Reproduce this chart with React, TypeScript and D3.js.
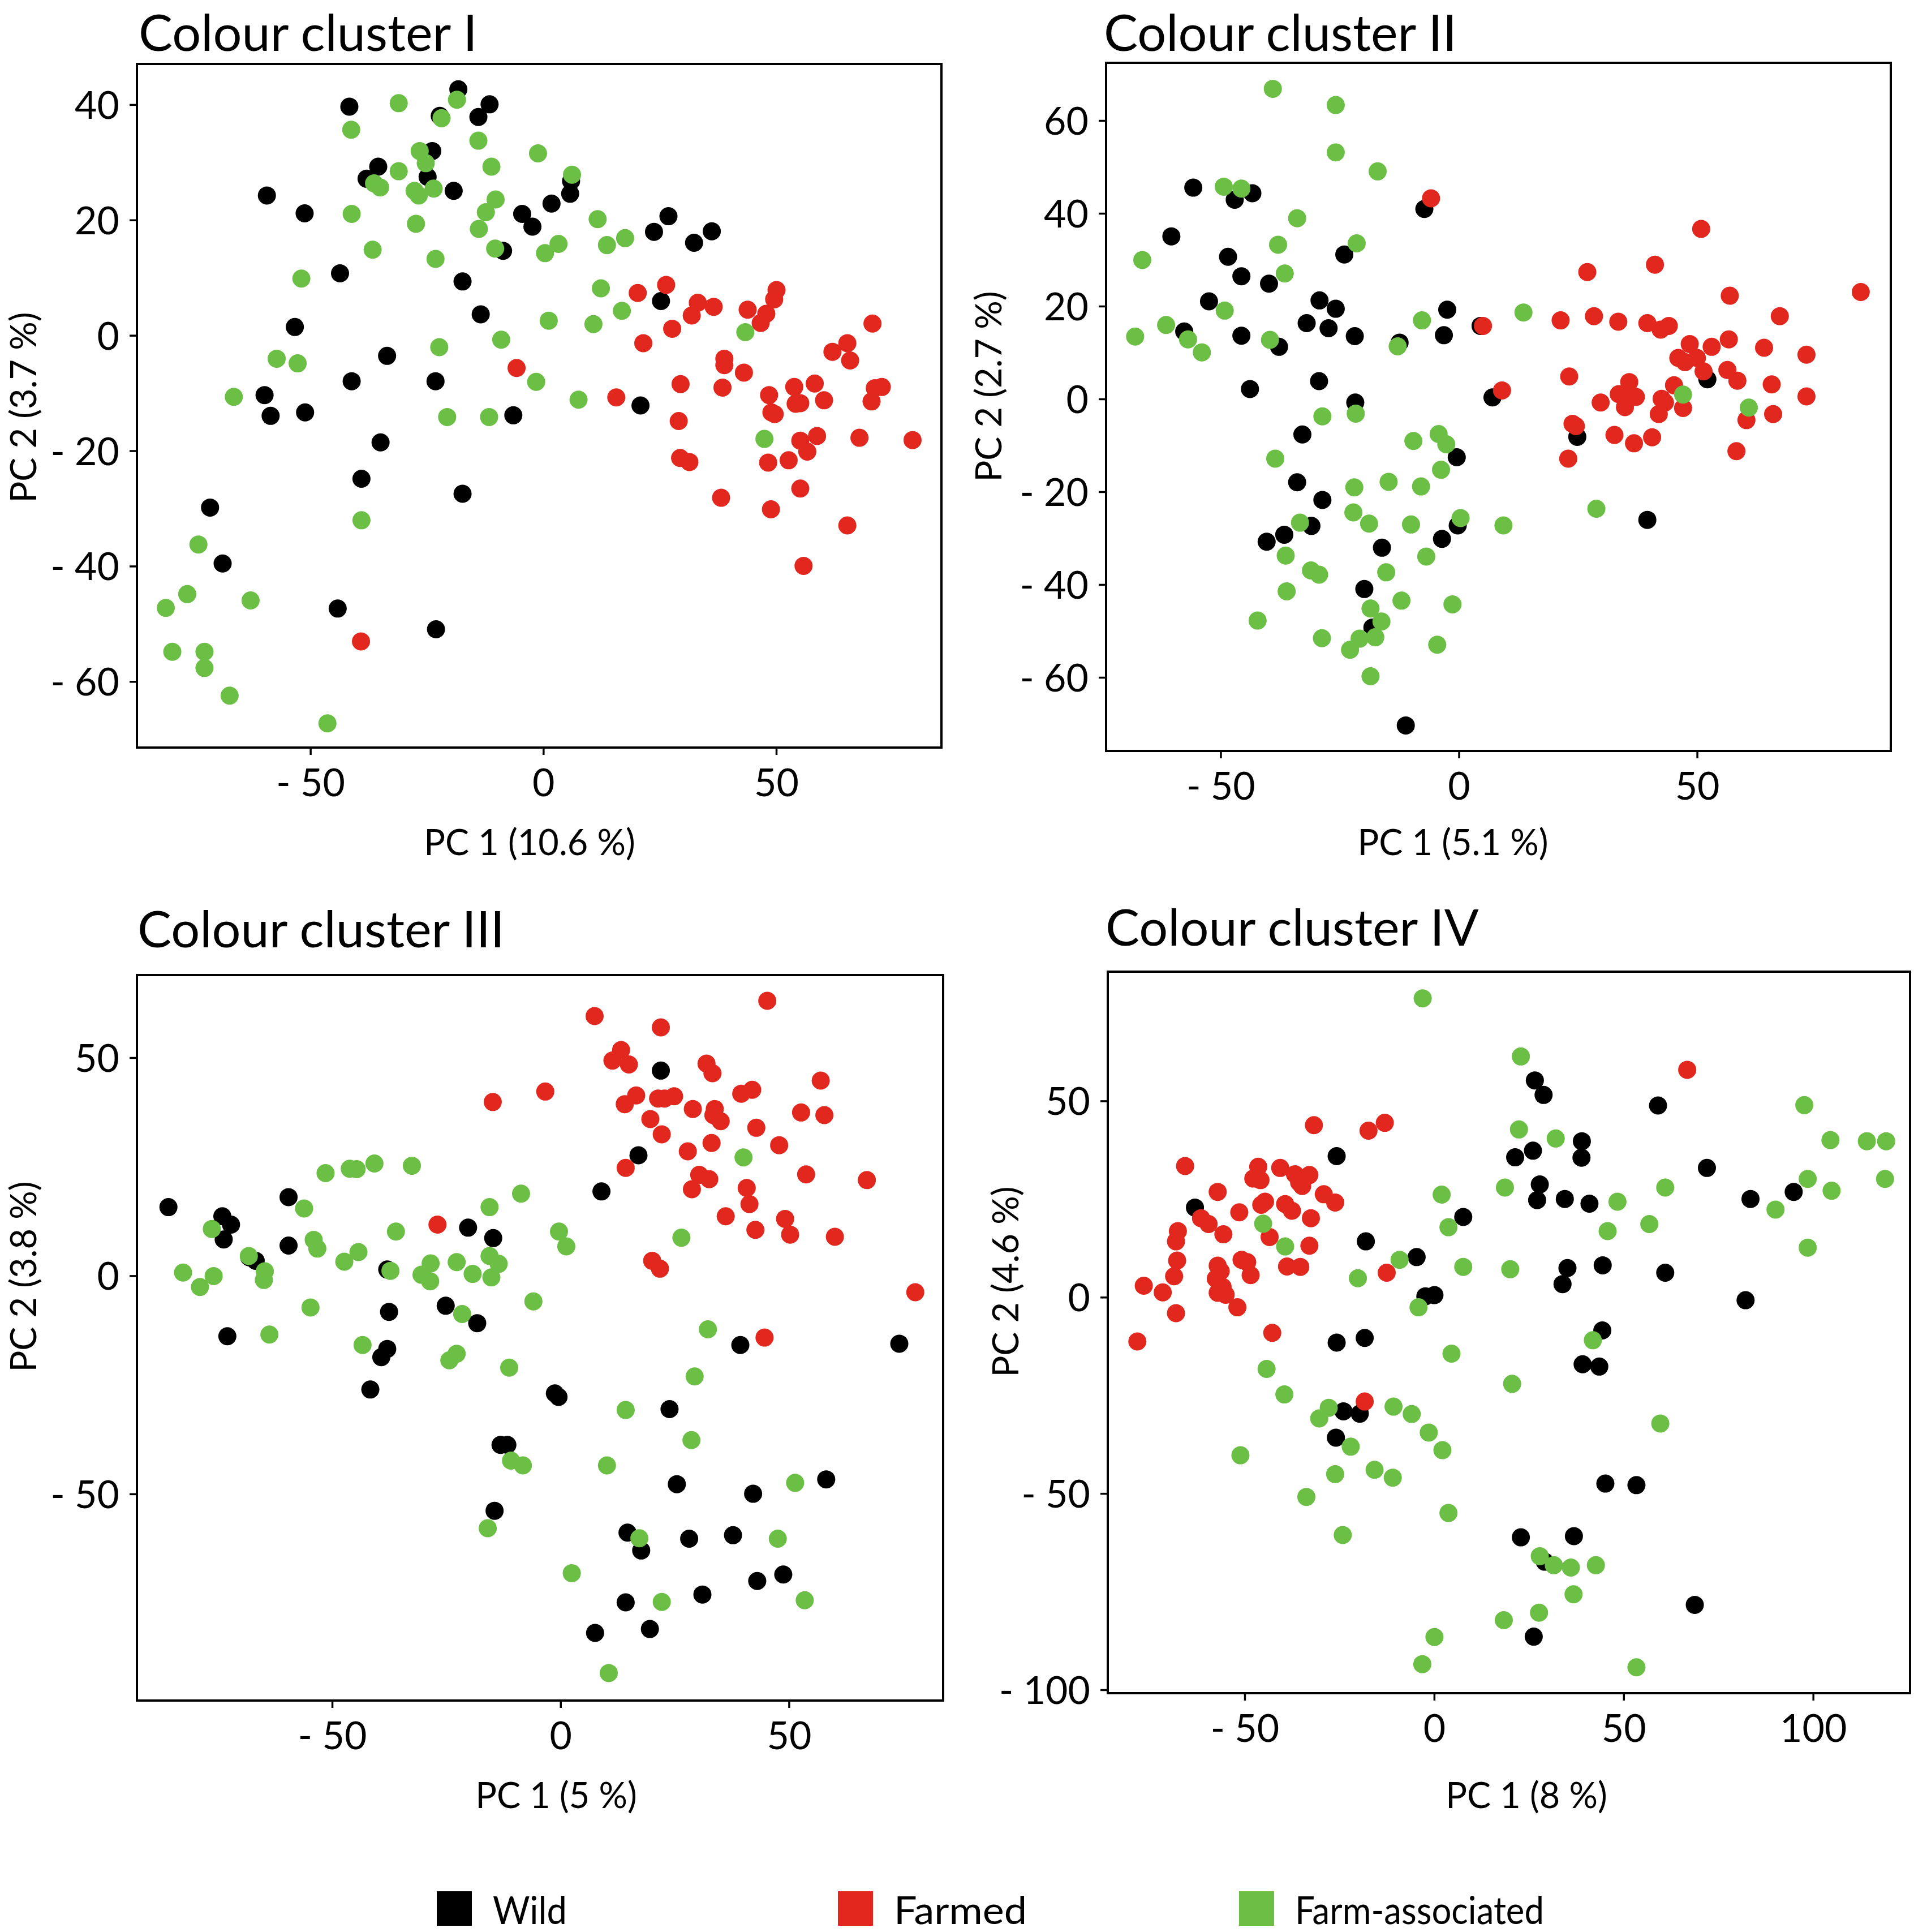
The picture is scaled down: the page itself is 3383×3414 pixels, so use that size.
import * as React from 'react';
import { scaleLinear } from 'd3';

// Colour cluster I
const c1Wild: [number, number][] = [
  [-41.7, 39.7], [-18.3, 42.7], [-11.6, 40.1], [-14.0, 37.9], [-22.3, 38.1], [-23.9, 32.0], [-35.5, 29.3],
  [-38.0, 27.2], [-24.9, 27.5], [-19.3, 25.1], [-59.4, 24.3], [-51.3, 21.2], [-4.6, 21.1], [-2.4, 18.9],
  [1.7, 22.9], [5.7, 24.6], [5.9, 26.8], [-8.7, 14.7], [23.7, 18.0], [26.8, 20.7], [32.3, 16.1], [36.1, 18.1],
  [-43.7, 10.8], [-17.4, 9.4], [-13.5, 3.7], [25.2, 6.0], [-53.4, 1.5], [-33.6, -3.5], [-41.2, -7.9],
  [-23.2, -7.9], [-59.9, -10.3], [-58.6, -13.9], [-51.2, -13.3], [-6.5, -13.8], [20.8, -12.1], [-35.0, -18.5],
  [-39.1, -24.8], [-17.4, -27.4], [-71.6, -29.8], [-68.9, -39.5], [-44.2, -47.3], [-23.1, -50.9],
];
const c1Farmed: [number, number][] = [
  [26.3, 8.8], [20.2, 7.4], [50.0, 7.9], [49.5, 6.3], [33.1, 5.7], [36.5, 5.0], [31.8, 3.5], [43.8, 4.5],
  [47.8, 3.8], [46.6, 2.2], [27.6, 1.2], [70.6, 2.1], [21.4, -1.3], [65.2, -1.3], [62.0, -2.8], [65.8, -4.3],
  [38.8, -4.0], [38.8, -5.1], [43.0, -6.4], [-5.8, -5.6], [29.4, -8.4], [38.4, -9.0], [53.8, -8.9], [58.2, -8.3],
  [71.1, -9.1], [72.6, -8.9], [48.4, -10.3], [15.6, -10.7], [54.1, -11.8], [55.1, -11.7], [60.2, -11.2],
  [70.4, -11.4], [48.9, -13.3], [49.6, -13.6], [29.0, -14.8], [58.7, -17.4], [55.1, -18.2], [67.8, -17.7],
  [79.2, -18.1], [56.6, -20.1], [29.3, -21.2], [31.3, -21.9], [48.2, -22.0], [52.6, -21.6], [55.1, -26.5],
  [38.1, -28.1], [48.8, -30.1], [65.2, -32.9], [55.8, -39.9], [-39.2, -53.0],
];
const c1Assoc: [number, number][] = [
  [-31.1, 40.3], [-18.6, 40.9], [-21.9, 37.7], [-41.3, 35.7], [-14.0, 33.8], [-26.6, 32.0], [-25.3, 29.9],
  [-11.2, 29.3], [-1.2, 31.6], [-31.1, 28.5], [6.1, 27.9], [-36.4, 26.4], [-35.1, 25.7], [-27.7, 25.1],
  [-26.8, 24.3], [-23.6, 25.5], [-10.3, 23.6], [-12.4, 21.4], [-41.2, 21.1], [-27.4, 19.4], [-13.9, 18.5],
  [11.6, 20.2], [-36.7, 14.9], [-10.4, 15.1], [0.3, 14.3], [3.2, 15.9], [13.6, 15.7], [17.5, 16.9],
  [-23.2, 13.3], [-52.0, 9.9], [12.3, 8.2], [16.8, 4.3], [1.1, 2.6], [10.7, 2.0], [43.3, 0.6], [-9.1, -0.7],
  [-22.4, -2.0], [-57.3, -4.0], [-52.8, -4.8], [-66.5, -10.6], [-1.6, -8.0], [7.5, -11.1], [-20.7, -14.1],
  [-11.7, -14.1], [47.4, -17.9], [-39.1, -32.0], [-74.1, -36.2], [-76.5, -44.8], [-62.9, -45.9], [-81.1, -47.2],
  [-79.7, -54.8], [-72.8, -54.8], [-72.8, -57.6], [-67.4, -62.4], [-46.4, -67.2],
];

// Colour cluster II
const c2Wild: [number, number][] = [
  [-55.8, 45.6], [-47.1, 43.0], [-43.4, 44.4], [-60.4, 35.1], [-48.5, 30.7], [-45.7, 26.5], [-24.1, 31.2],
  [-39.9, 24.9], [-52.5, 21.1], [-29.3, 21.3], [-25.9, 19.5], [-32.0, 16.4], [-27.4, 15.3], [-21.9, 13.6],
  [-57.7, 14.6], [-45.7, 13.7], [-37.8, 11.3], [-7.3, 41.0], [-2.5, 19.3], [-3.2, 13.8], [-12.5, 12.2],
  [4.5, 15.8], [-29.4, 3.9], [-43.9, 2.2], [-21.8, -0.7], [7.0, 0.4], [-32.9, -7.6], [-0.5, -12.5],
  [24.8, -8.1], [-34.0, -17.9], [-28.7, -21.7], [-31.0, -27.3], [-36.7, -29.2], [-40.4, -30.7], [-0.3, -27.2],
  [-3.6, -30.1], [-16.2, -32.0], [-19.9, -40.9], [-18.2, -49.2], [-11.2, -70.3], [39.5, -26.0], [52.1, 4.3],
];
const c2Farmed: [number, number][] = [
  [-5.9, 43.3], [50.8, 36.7], [41.1, 29.0], [26.9, 27.4], [56.8, 22.3], [84.3, 23.1], [5.0, 15.8], [21.3, 17.0],
  [28.3, 17.9], [33.4, 16.7], [39.5, 16.4], [42.3, 15.0], [44.0, 15.8], [67.3, 17.9], [48.4, 11.9], [53.0, 11.3],
  [56.6, 12.9], [64.0, 11.1], [72.9, 9.6], [46.0, 8.9], [49.9, 8.9], [47.4, 8.0], [51.3, 6.0], [56.3, 6.3],
  [58.4, 4.0], [65.6, 3.2], [23.1, 4.9], [45.1, 3.0], [35.7, 3.7], [33.5, 1.1], [35.8, 1.1], [37.1, 0.5],
  [34.8, -1.7], [42.5, 0.1], [43.2, -0.7], [29.7, -0.7], [41.9, -3.2], [47.0, -1.9], [72.9, 0.6], [65.9, -3.2],
  [60.3, -4.5], [9.0, 1.9], [23.8, -5.3], [32.6, -7.7], [36.7, -9.5], [40.5, -8.2], [22.9, -12.8], [58.2, -11.2],
  [24.5, -5.8],
];
const c2Assoc: [number, number][] = [
  [-39.1, 66.9], [-25.9, 63.4], [-25.9, 53.2], [-17.1, 49.1], [-49.4, 45.8], [-45.7, 45.4], [-34.0, 39.0],
  [-38.0, 33.3], [-21.5, 33.6], [-66.5, 30.0], [-36.6, 27.1], [-49.2, 19.1], [-61.5, 16.0], [-68.0, 13.5],
  [-56.9, 12.9], [-54.0, 10.1], [-39.7, 12.8], [-7.8, 17.0], [-12.9, 11.4], [13.5, 18.7], [-28.7, -3.7],
  [-21.7, -3.1], [-9.6, -9.0], [-4.3, -7.5], [-2.7, -9.7], [-38.6, -12.8], [-3.8, -15.2], [-22.0, -19.0],
  [-14.8, -17.8], [-8.0, -18.8], [-22.2, -24.4], [-18.9, -26.8], [-10.1, -27.0], [-33.4, -26.6], [0.3, -25.6],
  [9.3, -27.2], [28.8, -23.6], [-36.4, -33.7], [-31.1, -36.9], [-29.4, -37.8], [-15.3, -37.3], [-6.9, -33.9],
  [-36.2, -41.4], [-12.1, -43.4], [-1.4, -44.2], [-18.6, -45.1], [-42.3, -47.7], [-16.3, -47.9], [-28.8, -51.5],
  [-20.9, -51.6], [-17.6, -51.3], [-22.9, -54.0], [-4.6, -52.9], [-18.6, -59.7], [47.0, 1.0], [60.8, -1.8],
];

// Colour cluster III
const c3Wild: [number, number][] = [
  [21.9, 47.1], [17.0, 27.7], [8.9, 19.4], [-85.9, 15.8], [-59.6, 18.1], [-74.1, 13.7], [-72.2, 11.8],
  [-73.8, 8.4], [-59.6, 7.0], [-68.2, 4.3], [-66.8, 3.5], [-38.0, 1.5], [-20.3, 11.1], [-14.8, 8.7],
  [-73.0, -13.8], [-37.6, -8.2], [-25.2, -6.8], [-18.3, -10.8], [-38.0, -16.7], [-39.3, -18.6], [-41.7, -26.0],
  [-1.3, -26.9], [-0.5, -27.7], [39.3, -15.8], [74.1, -15.5], [23.8, -30.5], [-13.2, -38.7], [-11.7, -38.7],
  [-14.5, -53.8], [25.4, -47.7], [42.1, -49.9], [58.1, -46.6], [14.6, -58.8], [17.6, -62.9], [28.1, -60.2],
  [37.7, -59.4], [48.7, -68.4], [43.0, -69.9], [31.0, -73.0], [14.2, -74.8], [19.5, -80.9], [7.5, -81.8],
];
const c3Farmed: [number, number][] = [
  [45.2, 63.1], [7.4, 59.6], [21.9, 57.0], [13.2, 51.8], [11.3, 49.4], [14.9, 48.5], [31.9, 48.7], [33.2, 46.5],
  [56.9, 44.8], [-3.4, 42.3], [-14.9, 39.9], [16.5, 41.4], [14.0, 39.4], [21.3, 40.7], [22.7, 40.7], [24.8, 41.2],
  [39.5, 41.8], [41.9, 42.7], [19.6, 36.0], [28.9, 38.3], [33.7, 38.3], [33.4, 36.9], [35.0, 35.5], [52.6, 37.5],
  [57.7, 36.9], [42.8, 34.0], [22.1, 32.5], [33.0, 30.5], [47.8, 30.0], [27.8, 28.6], [14.2, 24.8], [30.3, 23.2],
  [32.5, 22.2], [28.7, 19.9], [40.7, 20.2], [53.7, 23.3], [67.0, 22.0], [41.3, 16.5], [36.1, 13.7], [49.1, 13.1],
  [42.6, 10.6], [50.2, 9.5], [60.0, 9.0], [-27.0, 11.8], [20.0, 3.5], [21.7, 1.7], [77.6, -3.7], [44.6, -14.1],
];
const c3Assoc: [number, number][] = [
  [40.0, 27.2], [-40.8, 25.8], [-32.6, 25.3], [-46.2, 24.6], [-44.7, 24.5], [-51.5, 23.6], [-8.7, 18.9],
  [-56.2, 15.5], [-15.6, 15.8], [-76.4, 10.8], [-36.1, 10.2], [-54.1, 8.3], [-53.3, 6.3], [-44.3, 5.5],
  [-0.4, 10.2], [1.2, 6.8], [26.4, 8.8], [-68.3, 4.6], [-47.4, 3.3], [-37.3, 1.2], [-28.5, 2.9], [-22.8, 3.2],
  [-15.6, 4.6], [-13.6, 2.8], [-64.8, 1.1], [-82.7, 0.8], [-76.0, 0.0], [-79.0, -2.5], [-65.0, -0.9],
  [-30.5, 0.3], [-28.6, -1.2], [-19.3, 0.5], [-15.2, -0.3], [-54.8, -7.2], [-6.0, -5.8], [-21.6, -8.7],
  [-63.8, -13.4], [-43.4, -15.8], [-22.8, -17.8], [-24.4, -19.3], [-11.3, -21.0], [32.2, -12.2], [29.3, -23.0],
  [14.2, -30.7], [28.6, -37.6], [-10.9, -42.3], [-8.3, -43.4], [10.1, -43.4], [-16.0, -57.8], [17.2, -60.1],
  [51.3, -47.4], [47.5, -60.2], [2.4, -68.1], [22.1, -74.7], [53.4, -74.3], [10.5, -91.0],
];

// Colour cluster IV
const c4Wild: [number, number][] = [
  [26.5, 55.3], [28.8, 51.6], [59.0, 48.9], [-25.8, 36.0], [-63.2, 22.9], [26.0, 37.4], [21.3, 35.7],
  [38.9, 39.8], [38.8, 35.6], [71.9, 33.0], [27.8, 28.8], [27.1, 24.8], [34.4, 25.1], [40.9, 23.9], [83.4, 25.1],
  [94.8, 26.9], [7.6, 20.5], [-18.1, 14.3], [-4.7, 10.3], [35.1, 7.5], [44.4, 8.2], [33.8, 3.4], [60.9, 6.3],
  [-2.4, 0.3], [0.0, 0.6], [82.1, -0.7], [44.3, -8.4], [-25.8, -11.5], [-18.4, -10.3], [39.1, -17.0],
  [43.5, -17.6], [-24.0, -29.0], [-19.7, -29.6], [-26.0, -35.7], [45.1, -47.4], [53.3, -47.8], [22.8, -61.1],
  [36.8, -60.8], [29.1, -67.3], [68.7, -78.3], [26.2, -86.4],
];
const c4Farmed: [number, number][] = [
  [66.7, 58.0], [-31.8, 43.9], [-13.1, 44.5], [-17.4, 42.5], [-65.8, 33.5], [-46.5, 33.3], [-47.8, 30.3],
  [-45.9, 29.9], [-40.7, 33.0], [-36.8, 31.4], [-33.0, 31.2], [-35.7, 29.3], [-34.9, 28.4], [-57.2, 26.9],
  [-29.2, 26.3], [-26.2, 24.2], [-44.7, 24.4], [-45.7, 23.6], [-39.4, 23.8], [-37.6, 22.1], [-51.5, 21.7],
  [-32.6, 20.2], [-61.6, 20.2], [-59.6, 18.7], [-67.7, 16.9], [-68.2, 14.3], [-55.7, 16.1], [-43.5, 15.4],
  [-33.0, 13.2], [-67.9, 9.4], [-57.2, 8.1], [-56.4, 6.7], [-50.9, 9.6], [-49.4, 9.0], [-38.9, 7.9],
  [-35.4, 7.8], [-48.5, 5.7], [-68.7, 5.4], [-57.7, 4.8], [-55.9, 2.7], [-76.7, 3.0], [-71.7, 1.3],
  [-57.2, 1.2], [-55.1, 0.7], [-52.0, -2.5], [-68.2, -4.0], [-12.6, 6.3], [-42.8, -9.0], [-78.4, -11.2],
  [-18.4, -26.5],
];
const c4Assoc: [number, number][] = [
  [-3.1, 76.2], [22.8, 61.4], [97.6, 49.0], [22.3, 42.8], [32.0, 40.5], [104.5, 40.1], [114.1, 39.8],
  [119.2, 39.8], [98.5, 30.2], [118.9, 30.2], [104.8, 27.2], [18.6, 28.0], [60.9, 28.0], [1.9, 26.2],
  [48.3, 24.4], [90.0, 22.4], [56.7, 18.7], [3.7, 17.9], [45.7, 16.9], [-45.2, 18.8], [-39.4, 13.0],
  [98.5, 12.7], [-9.2, 9.6], [7.6, 7.8], [20.0, 7.2], [-20.2, 4.9], [-4.2, -2.5], [41.8, -10.9], [4.5, -14.3],
  [-44.3, -18.2], [20.5, -22.0], [-39.6, -24.7], [-27.9, -28.1], [-30.4, -30.8], [-10.8, -27.8], [-6.0, -29.7],
  [-1.5, -34.4], [2.1, -38.9], [-22.1, -38.0], [-51.2, -40.2], [59.6, -32.1], [-26.2, -45.0], [-15.8, -43.9],
  [-11.0, -45.9], [-33.8, -50.8], [3.7, -54.9], [-24.2, -60.5], [27.8, -65.9], [31.5, -68.2], [36.0, -68.8],
  [42.6, -68.2], [36.7, -75.6], [27.6, -80.3], [18.3, -82.2], [0.0, -86.5], [-3.2, -93.4], [53.3, -94.2],
];

// titles, axis labels, ticks
const titles = ['Colour cluster I', 'Colour cluster II', 'Colour cluster III', 'Colour cluster IV'];
const xLabels = ['PC 1 (10.6 %)', 'PC 1 (5.1 %)', 'PC 1 (5 %)', 'PC 1 (8 %)'];
const yLabels = ['PC 2 (3.7 %)', 'PC 2 (2.7 %)', 'PC 2 (3.8 %)', 'PC 2 (4.6 %)'];
const xTicks = [[-50, 0, 50], [-50, 0, 50], [-50, 0, 50], [-50, 0, 50, 100]];
const yTicks = [
  [-60, -40, -20, 0, 20, 40],
  [-60, -40, -20, 0, 20, 40, 60],
  [-50, 0, 50],
  [-100, -50, 0, 50],
];
const xDomains = [[-87.3, 85.4], [-74.1, 90.6], [-92.8, 83.7], [-86.2, 125.5]];
const yDomains = [[-71.4, 47.1], [-75.8, 72.5], [-97.3, 69.0], [-100.8, 83.0]];

const groups = ['Wild', 'Farmed', 'Farm-associated'];
const colours = ['#000000', '#e2271f', '#6cbf45'];
const series = [
  [c1Wild, c1Farmed, c1Assoc],
  [c2Wild, c2Farmed, c2Assoc],
  [c3Wild, c3Farmed, c3Assoc],
  [c4Wild, c4Farmed, c4Assoc],
];

// layout: plot box [left, top, right, bottom], title position, axis label placement
const boxes = [
  [242, 113, 1664, 1321],
  [1955, 111, 3342, 1327],
  [242, 1723, 1667, 3005],
  [1958, 1717, 3376, 2992],
];
const titlePos = [[245, 90], [1951, 90], [243, 1674], [1954, 1671]];
const xLabelPos = [[936, 1511], [2568, 1511], [983, 3195], [2698, 3195]];
const yLabelPos = [[64, 720], [1770, 683], [64, 2256], [1800, 2265]];
const legendX = [772, 1481, 2190];
const legendW = [131, 235, 440];

const W = 3383;
const H = 3414;
const FONT = 'Lato, "Open Sans", sans-serif';
const fmt = (v: number) => (v < 0 ? `- ${Math.abs(v)}` : `${v}`);

const Panel = ({ i }: { i: number }) => {
  const [l, t, r, b] = boxes[i];
  const x = scaleLinear().domain(xDomains[i]).range([l, r]);
  const y = scaleLinear().domain(yDomains[i]).range([b, t]);
  return (
    <g>
      <text x={titlePos[i][0]} y={titlePos[i][1]} fontSize={90} fontFamily={FONT}>
        {titles[i]}
      </text>
      {series[i].map((pts, g) => (
        <g key={g} fill={colours[g]}>
          {pts.map((p, k) => (
            <circle key={k} cx={x(p[0])} cy={y(p[1])} r={16} />
          ))}
        </g>
      ))}
      <rect x={l} y={t} width={r - l} height={b - t} fill="none" stroke="#000" strokeWidth={4} />
      {xTicks[i].map(v => (
        <g key={v}>
          <line x1={x(v)} x2={x(v)} y1={b} y2={b + 13} stroke="#000" strokeWidth={3.5} />
          <text x={x(v)} y={b + 86} textAnchor="middle" fontSize={68} fontFamily={FONT}>
            {fmt(v)}
          </text>
        </g>
      ))}
      {yTicks[i].map(v => (
        <g key={v}>
          <line x1={l - 13} x2={l} y1={y(v)} y2={y(v)} stroke="#000" strokeWidth={3.5} />
          <text x={l - 31} y={y(v)} dy="0.36em" textAnchor="end" fontSize={68} fontFamily={FONT}>
            {fmt(v)}
          </text>
        </g>
      ))}
      <text x={xLabelPos[i][0]} y={xLabelPos[i][1]} textAnchor="middle" fontSize={63} fontFamily={FONT}>
        {xLabels[i]}
      </text>
      <text
        transform={`translate(${yLabelPos[i][0]},${yLabelPos[i][1]}) rotate(-90)`}
        textAnchor="middle"
        fontSize={63}
        fontFamily={FONT}
      >
        {yLabels[i]}
      </text>
    </g>
  );
};

export default function App() {
  return (
    <svg width={W} height={H} style={{ position: 'absolute', left: 0, top: 0, background: '#fff' }}>
      <rect width={W} height={H} fill="#fff" />
      {titles.map((_, i) => (
        <Panel key={i} i={i} />
      ))}
      {groups.map((g, k) => (
        <g key={g}>
          <rect x={legendX[k]} y={3342} width={62} height={61} fill={colours[k]} />
          <text
            x={legendX[k] + 99}
            y={3400}
            fontSize={68}
            fontFamily={FONT}
            textLength={legendW[k]}
            lengthAdjust="spacingAndGlyphs"
          >
            {g}
          </text>
        </g>
      ))}
    </svg>
  );
}
